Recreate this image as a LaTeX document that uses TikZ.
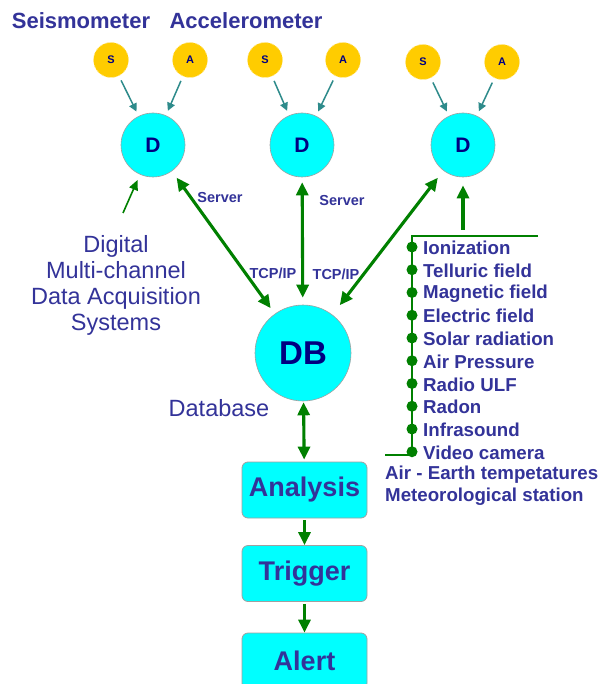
\documentclass[tikz,border=0pt]{standalone}
\usepackage{fontspec}
\setmainfont{Liberation Sans}
\usetikzlibrary{arrows.meta}
\definecolor{txt}{HTML}{333399}
\definecolor{dnavy}{HTML}{000080}
\definecolor{cy}{HTML}{00FFFF}
\definecolor{gold}{HTML}{FFCC00}
\definecolor{grn}{HTML}{008000}
\definecolor{tealarr}{HTML}{2E8B8B}
\definecolor{edge}{HTML}{A0A0A0}
\newcommand{\fs}[1]{\fontsize{#1}{#1}\selectfont}
\begin{document}
\begin{tikzpicture}[x=1pt,y=-1pt,
  sensor/.style={circle, fill=gold, draw=gold!50!white, dashed, line width=0.6pt, minimum size=35pt, inner sep=0pt, font=\bfseries\fs{11}, text=dnavy},
  dnode/.style={circle, fill=cy, draw=edge, line width=0.6pt, minimum size=64pt, inner sep=0pt, font=\bfseries\fs{21}, text=dnavy},
  dbnode/.style={circle, fill=cy, draw=edge, line width=0.6pt, minimum size=96pt, inner sep=0pt, font=\bfseries\fs{33}, text=dnavy},
  procbox/.style={rectangle, rounded corners=6pt, fill=cy, draw=edge, line width=0.8pt, minimum width=125pt, minimum height=56pt, inner sep=0pt, font=\bfseries\fs{27}, text=txt},
  head/.style={text=txt, font=\bfseries\fs{22}, inner sep=0pt},
  bigtxt/.style={text=txt, font=\fs{23.5}, inner sep=0pt, align=center},
  smalllab/.style={text=txt, font=\bfseries\fs{14.5}, inner sep=0pt},
  item/.style={text=txt, font=\bfseries\fs{18.7}, inner sep=0pt, anchor=west},
  dotnode/.style={circle, fill=grn, minimum size=11pt, inner sep=0pt},
  tarrow/.style={draw=tealarr, line width=1.5pt, -{Triangle[length=8pt,width=8pt]}, shorten <=5pt, shorten >=5pt},
  garrow/.style={draw=grn, line width=3.1pt, -{Triangle[length=13pt,width=12pt]}},
  gdouble/.style={draw=grn, line width=3.1pt, {Triangle[length=13pt,width=12pt]}-{Triangle[length=13pt,width=12pt]}},
  gline/.style={draw=grn, line width=2.6pt}
]
\useasboundingbox (0,0) rectangle (600,684);
\fill[white] (0,0) rectangle (600,684);

% headers
\node[head] (hs) at (81,21) {Seismometer};
\node[head] (ha) at (246,21) {Accelerometer};

% sensors
\node[sensor] (s1) at (111,60) {S};
\node[sensor] (a1) at (190,60) {A};
\node[sensor] (s2) at (265,60) {S};
\node[sensor] (a2) at (343,60) {A};
\node[sensor] (s3) at (423,62) {S};
\node[sensor] (a3) at (502,62) {A};

% digitizers
\node[dnode] (d1) at (153,145) {D};
\node[dnode] (d2) at (302,145) {D};
\node[dnode] (d3) at (463,145) {D};

\draw[tarrow] (s1) -- (d1);
\draw[tarrow] (a1) -- (d1);
\draw[tarrow] (s2) -- (d2);
\draw[tarrow] (a2) -- (d2);
\draw[tarrow] (s3) -- (d3);
\draw[tarrow] (a3) -- (d3);

% database
\node[dbnode] (db) at (303,353) {DB};
\node[bigtxt] (dblab) at (219,408) {Database};

\draw[gdouble, shorten <=8pt, shorten >=7pt] (d1) -- (db);
\draw[gdouble, shorten <=5pt, shorten >=7pt] (d2) -- (db);
\draw[gdouble, shorten <=9pt, shorten >=12pt] (d3) -- (db);

\node[smalllab] (sv1) at (220,198) {Server};
\node[smalllab] (sv2) at (342,201) {Server};
\node[smalllab] (tc1) at (273,273) {TCP/IP};
\node[smalllab] (tc2) at (336,274) {TCP/IP};

% DAQ label
\node[bigtxt] (daq) at (116,285) {Digital\\[2.5pt]Multi-channel\\[2.5pt]Data Acquisition\\[2.5pt]Systems};
\coordinate (daqtip) at (123,213);
\draw[draw=grn, line width=1.6pt, -{Triangle[length=10pt,width=9pt]}, shorten >=6pt] (daqtip) -- (d1);

% sensor list bracket
\coordinate (brR) at (538,236);
\coordinate (brL) at (412,236);
\coordinate (brB) at (412,455);
\coordinate (brE) at (385,455);
\coordinate (upst) at (463,230);
\draw[gline] (brR) -- (brL) -- (brB) -- (brE);
\draw[garrow, shorten >=8pt] (upst) -- (d3);

\foreach \t [count=\i from 0] in {Ionization,Telluric field,Magnetic field,Electric field,Solar radiation,Air Pressure,Radio ULF,Radon,Infrasound,Video camera}{
  \node[dotnode] (dot\i) at (412,{247+22.75*\i}) {};
  \node[item] (it\i) at (423,{248+22.75*\i}) {\t};
}
\node[item] (airearth) at (385,475) {Air - Earth tempetatures};
\node[item] (meteo) at (385,497) {Meteorological station};

% processing chain
\node[procbox] (an) at (304.5,490) {Analysis};
\node[procbox] (tr) at (304.5,573.5) {Trigger};
\node[procbox] (al) at (304.5,661) {Alert};

\draw[gdouble, shorten <=1pt, shorten >=2pt] (db) -- (an);
\draw[garrow, shorten <=2pt] (an) -- (tr);
\draw[garrow, shorten <=2pt] (tr) -- (al);
\end{tikzpicture}
\end{document}
